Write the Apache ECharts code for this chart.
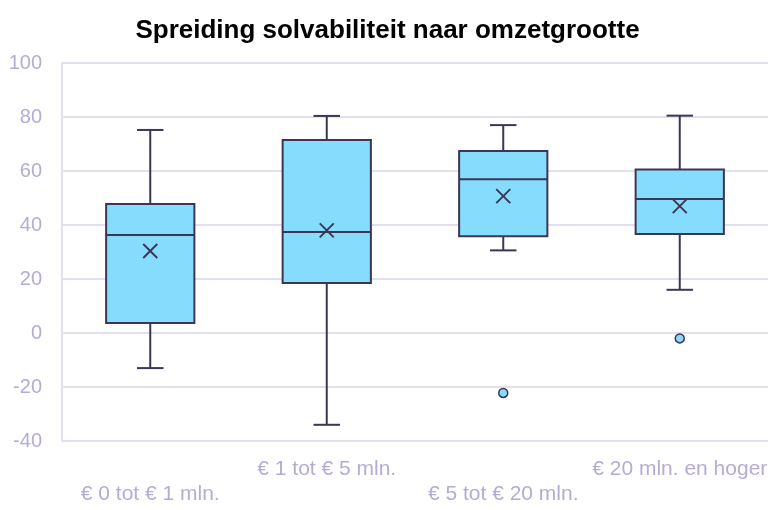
<!DOCTYPE html>
<html>
<head>
<meta charset="utf-8">
<script src="https://cdn.jsdelivr.net/npm/echarts@6/dist/echarts.min.js"></script>
<style>
  html, body { margin: 0; padding: 0; background: #fff; }
  #chart { width: 775px; height: 510px; }
</style>
</head>
<body>
<div id="chart"></div>
<script>
const categories = ['€ 0 tot € 1 mln.', '€ 1 tot € 5 mln.', '€ 5 tot € 20 mln.', '€ 20 mln. en hoger'];
// [min, Q1, mediaan, Q3, max]
const boxValues = [
  [-13, 3.7, 36.3, 47.8, 75.2],
  [-34, 18.5, 37.4, 71.5, 80.4],
  [30.6, 35.8, 56.9, 67.4, 77],
  [16, 36.7, 49.6, 60.6, 80.5]
];
const means = [30.4, 38, 50.7, 47];
const outliers = [[2, -22.2], [3, -2]];
const yTicks = { min: -40, max: 100, interval: 20 };

const fill = '#86dcfd';
const stroke = '#3d3556';
const labelColor = '#b6abd5';
const gridColor = '#e4dfef';

const boxData = boxValues.map((b, i) => [i, ...b, means[i]]);

function renderBox(params, api) {
  const i = api.value(0);
  const bandW = api.size([1, 0])[0];
  const half = bandW * 0.25;
  const cap = bandW * 0.075;
  const [cx, yMin] = api.coord([i, api.value(1)]);
  const yQ1 = api.coord([i, api.value(2)])[1];
  const yMed = api.coord([i, api.value(3)])[1];
  const yQ3 = api.coord([i, api.value(4)])[1];
  const yMax = api.coord([i, api.value(5)])[1];
  const yMean = api.coord([i, api.value(6)])[1];
  const ls = { stroke: stroke, lineWidth: 2 };
  const m = 7;
  return {
    type: 'group',
    children: [
      { type: 'line', shape: { x1: cx, y1: yQ3, x2: cx, y2: yMax }, style: ls },
      { type: 'line', shape: { x1: cx - cap, y1: yMax, x2: cx + cap, y2: yMax }, style: ls },
      { type: 'line', shape: { x1: cx, y1: yQ1, x2: cx, y2: yMin }, style: ls },
      { type: 'line', shape: { x1: cx - cap, y1: yMin, x2: cx + cap, y2: yMin }, style: ls },
      { type: 'rect', shape: { x: cx - half, y: yQ3, width: half * 2, height: yQ1 - yQ3 },
        style: { fill: fill, stroke: stroke, lineWidth: 2 } },
      { type: 'line', shape: { x1: cx - half, y1: yMed, x2: cx + half, y2: yMed }, style: ls },
      { type: 'line', shape: { x1: cx - m, y1: yMean - m, x2: cx + m, y2: yMean + m }, style: ls },
      { type: 'line', shape: { x1: cx - m, y1: yMean + m, x2: cx + m, y2: yMean - m }, style: ls }
    ]
  };
}

const chart = echarts.init(document.getElementById('chart'));
chart.setOption({
  animation: false,
  title: {
    text: 'Spreiding solvabiliteit naar omzetgrootte',
    left: 'center',
    top: 13,
    textStyle: { fontFamily: 'Liberation Sans', fontSize: 26, fontWeight: 'bold', color: '#000' }
  },
  grid: { left: 62, right: 7, top: 63, bottom: 69 },
  xAxis: {
    type: 'category',
    data: categories,
    axisLine: { show: false },
    axisTick: { show: false },
    axisLabel: {
      interval: 0,
      hideOverlap: false,
      margin: 16,
      color: labelColor,
      fontFamily: 'Liberation Sans',
      fontSize: 21,
      lineHeight: 25,
      formatter: (v, i) => (i % 2 === 0 ? '\n' + v : v)
    }
  },
  yAxis: {
    type: 'value',
    min: yTicks.min,
    max: yTicks.max,
    interval: yTicks.interval,
    axisLine: { show: true, lineStyle: { color: gridColor, width: 2 } },
    axisTick: { show: false },
    splitLine: { lineStyle: { color: gridColor, width: 2 } },
    axisLabel: { margin: 20, color: labelColor, fontFamily: 'Liberation Sans', fontSize: 20 }
  },
  series: [
    {
      type: 'custom',
      renderItem: renderBox,
      encode: { x: 0, y: [1, 2, 3, 4, 5, 6] },
      data: boxData
    },
    {
      type: 'scatter',
      data: outliers,
      symbol: 'circle',
      symbolSize: 9,
      itemStyle: { color: fill, borderColor: stroke, borderWidth: 1.5, opacity: 1 }
    }
  ]
});
</script>
</body>
</html>
